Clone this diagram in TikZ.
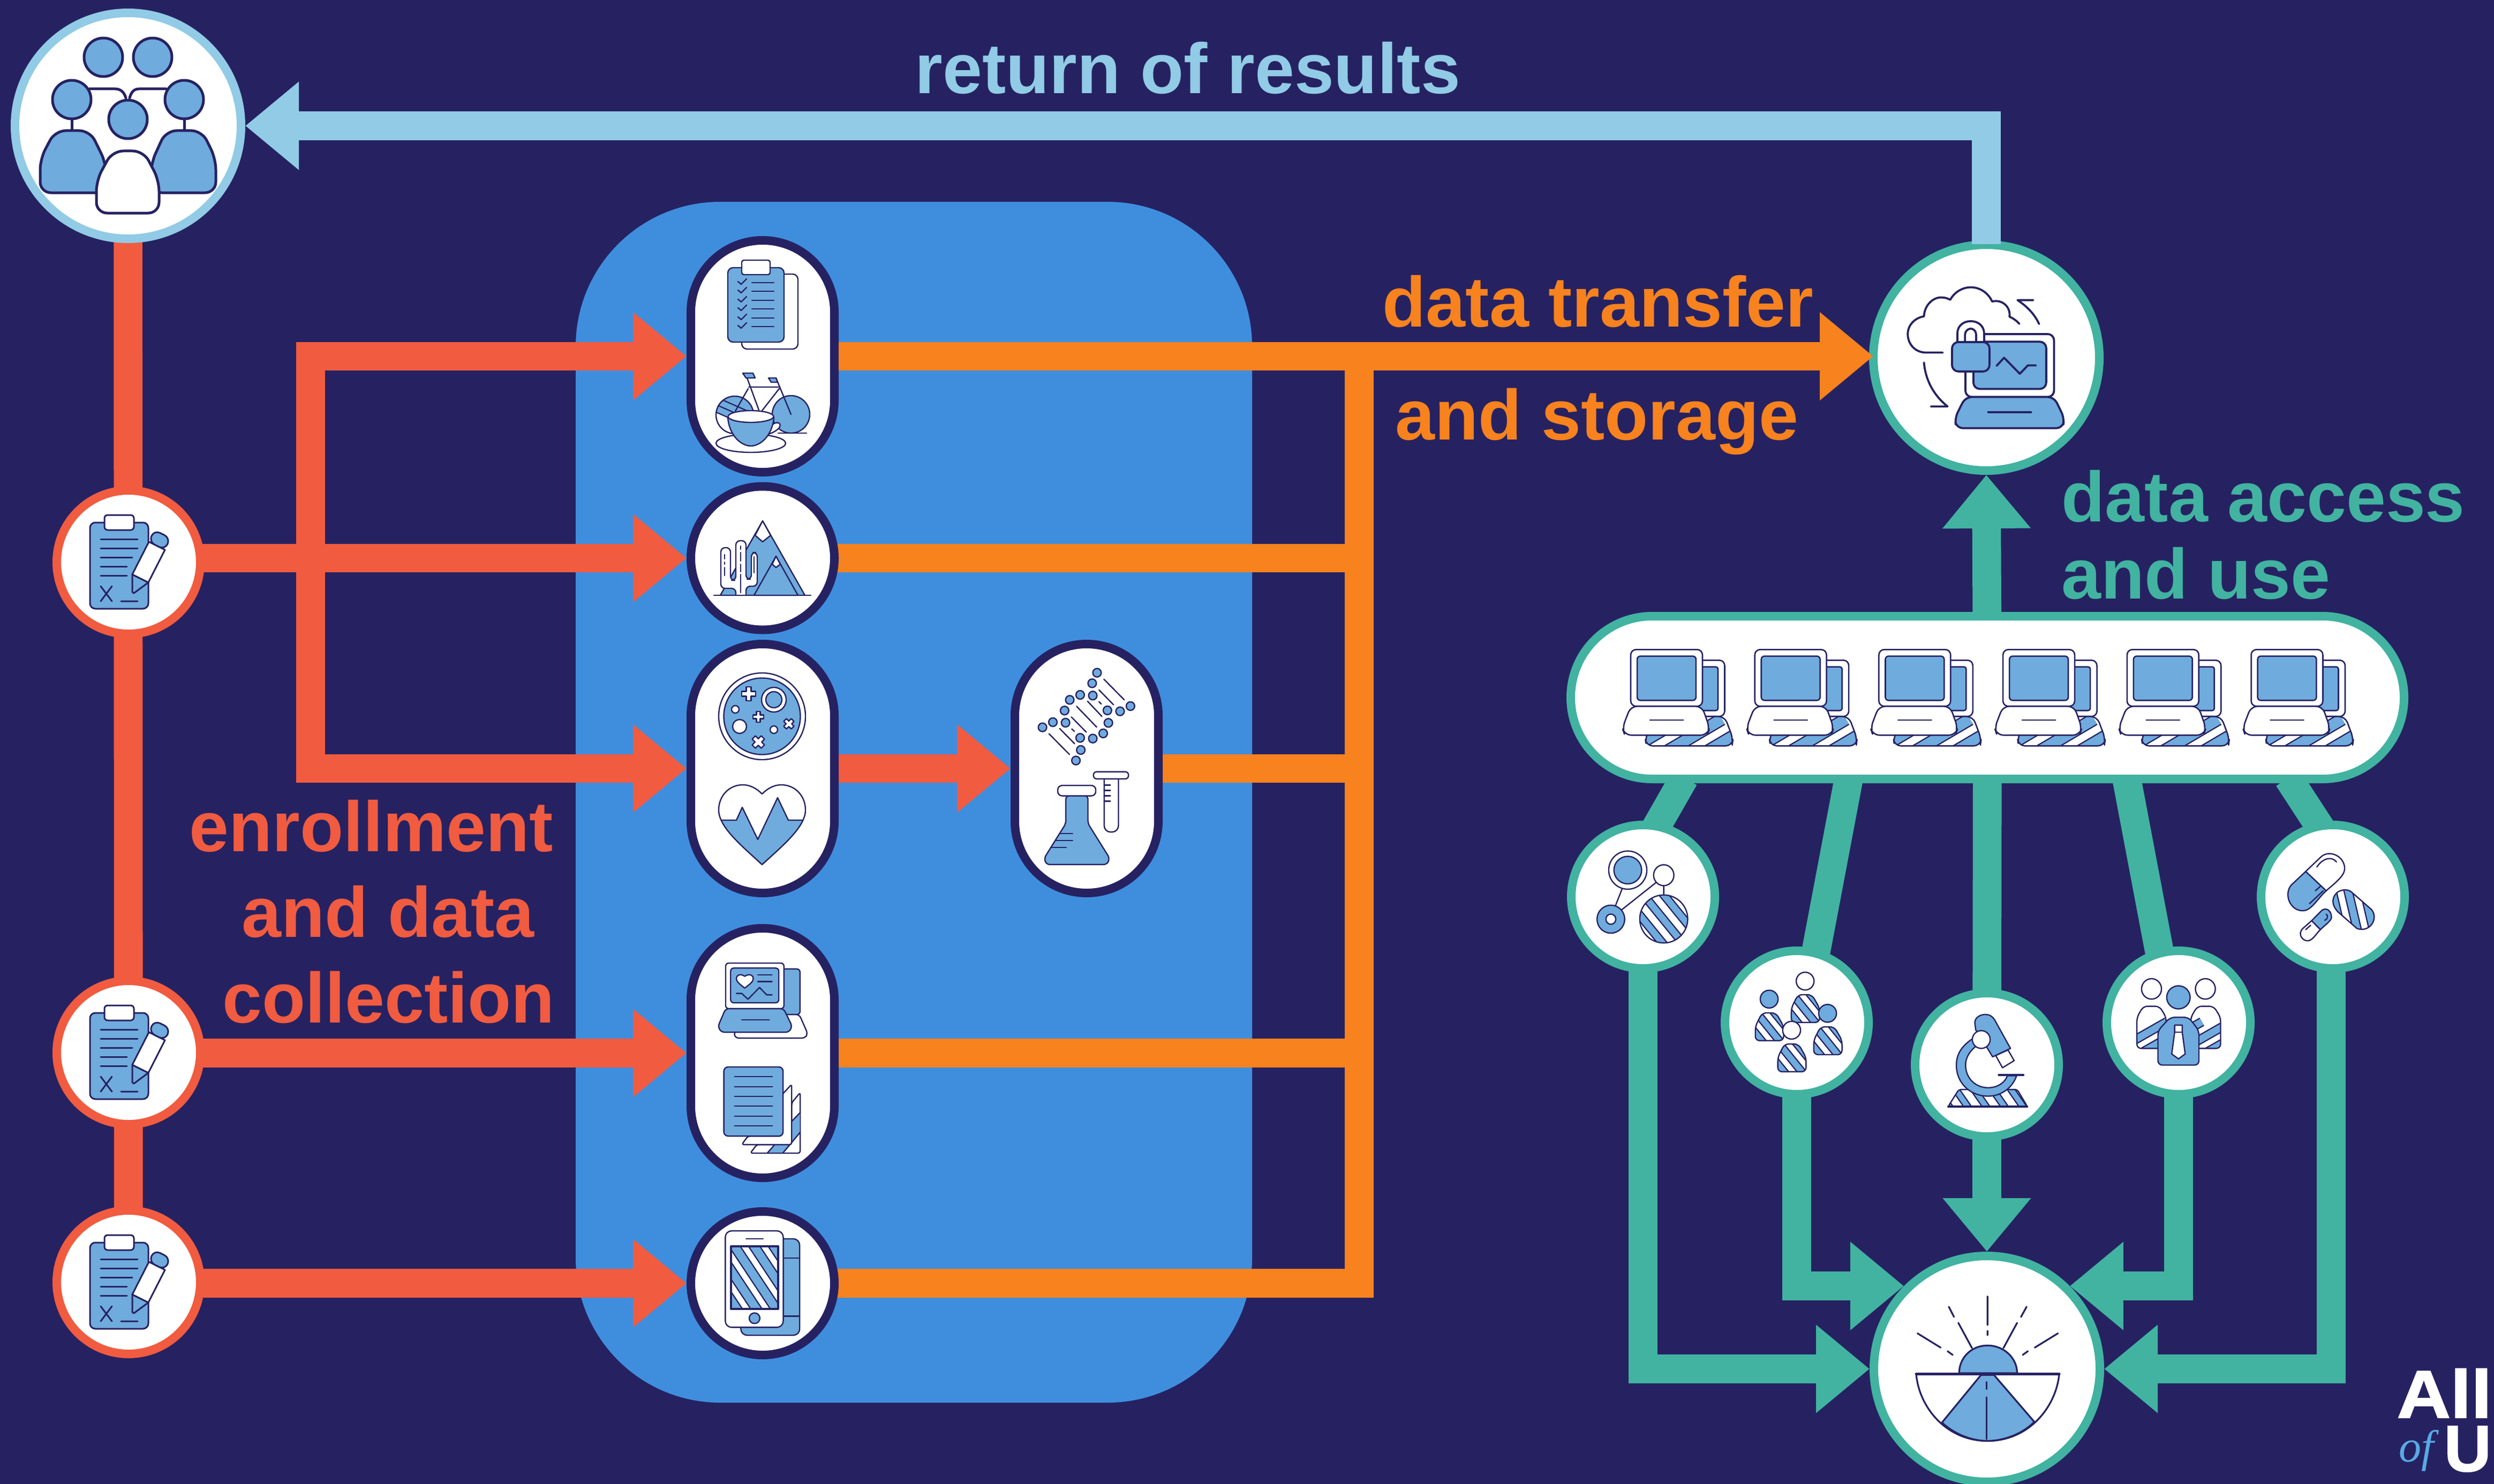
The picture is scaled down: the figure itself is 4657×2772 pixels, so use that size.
\documentclass[tikz,border=0pt]{standalone}
\usepackage{fontspec}
\setmainfont{Liberation Sans}
\newfontfamily\logoserif{Liberation Serif}
\newfontfamily\logoheavy[FakeBold=1.6]{Liberation Sans Bold}
\usetikzlibrary{arrows.meta,calc}
\definecolor{navy}{HTML}{262262}
\definecolor{panelblue}{HTML}{3F8EDE}
\definecolor{iconblue}{HTML}{6FABDD}
\definecolor{logoblue}{HTML}{58A9E5}
\definecolor{redc}{HTML}{F15B40}
\definecolor{orangec}{HTML}{F7821E}
\definecolor{tealc}{HTML}{41B3A0}
\definecolor{skyc}{HTML}{91CBE5}
\pgfdeclarelayer{bg}
\pgfsetlayers{bg,main}
\tikzset{
  ic/.style={draw=navy,line width=.75pt,line join=round,line cap=round},
  icb/.style={ic,fill=iconblue},
  icw/.style={ic,fill=white},
  zc/.style n args={4}{shift={(#1,#2)},x=#3pt,y=-#4pt},
  ringc/.style={circle,draw=#1,fill=white,line width=4pt,inner sep=0pt,minimum size=67pt},
  bigring/.style={ringc=#1,minimum size=105.5pt},
  pill/.style 2 args={rectangle,rounded corners=33.5pt,draw=navy,fill=white,line width=4pt,inner sep=0pt,minimum width=67pt,minimum height=#1 pt},
  conn/.style={line width=13.4pt,draw=#1,line join=miter},
  arrowc/.style={conn=#1,-{Triangle[length=25pt,width=39.6pt,fill=#1]}},
  arrowboth/.style={conn=#1,{Triangle[length=25pt,width=39.6pt,fill=#1]}-{Triangle[length=25pt,width=39.6pt,fill=#1]}},
  lab/.style={font=\fontsize{33.2}{33}\selectfont\bfseries,anchor=base west,inner sep=0pt,text=#1},
}
\newcommand\hatch[6]{%
  \fill[white] #1;
  \begin{scope}
    \clip #1;
    \foreach \hh in {#4}{%
      \draw[navy,line width=#6+1.2pt] (\hh,#5) ++(#2,#3) -- ++({-2*(#2)},{-2*(#3)});
      \draw[iconblue,line width=#6] (\hh,#5) ++(#2,#3) -- ++({-2*(#2)},{-2*(#3)});
    }
  \end{scope}
  \draw[ic] #1;}
\newcommand\crossmark[4]{%
  \begin{scope}[shift={(#1,#2)},rotate=#4]
    \pgfmathsetmacro\crt{.36*#3}
    \draw[icw,line width=.6pt] (-\crt,-#3)--(\crt,-#3)--(\crt,-\crt)--(#3,-\crt)--(#3,\crt)--(\crt,\crt)--(\crt,#3)--(-\crt,#3)--(-\crt,\crt)--(-#3,\crt)--(-#3,-\crt)--(-\crt,-\crt)--cycle;
  \end{scope}}
\newcommand\clipicon[1]{%
  \begin{scope}[shift={#1}]
    \draw[icb,rounded corners=2.5pt] (-72,-74) rectangle (37,87);
    \draw[icw,rounded corners=1.5pt] (-45,-88) rectangle (10,-60);
    \foreach \yy/\xx in {-43/17,-26/17,-9/7,8/-3,25/-3}{\draw[ic] (-52,\yy)--(\xx,\yy);}
    \draw[ic] (-52,45)--(-31,73) (-31,45)--(-52,73) (-14,73)--(17,73);
    \draw[icb] (7,23)--(37,38)--(10,58)--(7,56)--cycle;
    \draw[icw] (7,23)--(37,38)--(68,-23)--(38,-38)--cycle;
    \draw[icb,rounded corners=3pt] (38,-38)--(48,-60)--(78,-45)--(68,-23)--cycle;
  \end{scope}}
\begin{document}
\begin{tikzpicture}[x=.25pt,y=-.25pt]
\useasboundingbox (0,0) rectangle (4657,2772);

% ---------- nodes ----------
\node[bigring=skyc] (people) at (239,235) {};
\node[ringc=redc] (c1) at (240,1050) {};
\node[ringc=redc] (c2) at (240,1966) {};
\node[ringc=redc] (c3) at (240,2395) {};
\node[pill={108.25}{}] (p1) at (1424,665.5) {};
\node[ringc=navy] (p2) at (1424,1042.5) {};
\node[pill={116.25}{}] (p3) at (1424,1435.5) {};
\node[pill={116.5}{}] (p4) at (1424,1967) {};
\node[ringc=navy] (p6) at (1424,2397) {};
\node[pill={116.25}{}] (p5) at (2029,1435.5) {};
\node[bigring=tealc] (server) at (3709,668) {};
\node[rectangle,rounded corners=38pt,draw=tealc,fill=white,line width=4pt,inner sep=0pt,minimum width=389pt,minimum height=76pt] (bar) at (3711,1303) {};
\node[ringc=tealc] (A) at (3068,1675) {};
\node[ringc=tealc] (B) at (3355,1910) {};
\node[ringc=tealc] (C) at (3710,1989) {};
\node[ringc=tealc] (D) at (4068,1910) {};
\node[ringc=tealc] (E) at (4356,1675) {};
\node[bigring=tealc] (sun) at (3710,2557) {};

\coordinate (bus) at (580,1042);
\coordinate (collect) at (2538,666);
\coordinate (barA) at (3141,1460);
\coordinate (barB) at (3451,1460);
\coordinate (barD) at (3972,1460);
\coordinate (barE) at (4277,1460);
\coordinate (Eline) at (4353,1675);

% ---------- background, panel, connectors below the nodes ----------
\begin{pgfonlayer}{bg}
  \fill[navy] (0,0) rectangle (4657,2772);
  \fill[panelblue,rounded corners=67.5pt] (1075,377) rectangle (2338,2620);
  % red
  \draw[conn=redc] (people.center) -- (c3.center);
  \draw[arrowc=redc] (c1 |- p2) -- (p2.west);
  \draw[arrowboth=redc] (p1.west) -- (bus |- p1) -- (bus |- p3) -- (p3.west);
  \draw[arrowc=redc] (c2 |- p4) -- (p4.west);
  \draw[arrowc=redc] (c3 |- p6) -- (p6.west);
  \draw[arrowc=redc] (p3.center) -- (p5.west);
  % orange collectors
  \draw[conn=orangec] (p2.center) -- (p2 -| collect);
  \draw[conn=orangec] (p5.center) -- (p5 -| collect);
  \draw[conn=orangec] (p4.center) -- (p4 -| collect);
  \draw[conn=orangec] (p6.center) -| (collect);
  % teal
  \draw[arrowc=tealc] (bar.center) -- (server.south);
  \draw[conn=tealc,shorten <=-2pt,shorten >=-8pt] (barA) -- (A.78);
  \draw[conn=tealc,shorten <=-2pt,shorten >=-8pt] (barB) -- (B.75);
  \draw[conn=tealc] (bar.center) -- (C.center);
  \draw[conn=tealc,shorten <=-2pt,shorten >=-8pt] (barD) -- (D.105);
  \draw[conn=tealc,shorten <=-2pt,shorten >=-8pt] (barE) -- (E.102);
  \draw[arrowc=tealc] (A.center) |- (sun.west);
  \draw[arrowc=tealc] (B.center) |- (sun.135);
  \draw[arrowc=tealc] (C.center) -- (sun.north);
  \draw[arrowc=tealc] (D.center) |- (sun.45);
  \draw[arrowc=tealc] (Eline) |- (sun.east);
\end{pgfonlayer}

% connectors that lie over the rings
\draw[arrowc=orangec,shorten >=-2pt] (p1.east) -- (p1 -| server.west);
\draw[arrowc=skyc,shorten <=-1.75pt] (server.north) |- (people.east);

% ---------- texts ----------
\node[lab=skyc] (t1) at (1708,175) {return of results};
\node[lab=orangec] (t2) at (2581,610) {data transfer};
\node[lab=orangec] (t3) at (2605,821) {and storage};
\node[lab=tealc] (t4) at (3849,974) {data access};
\node[lab=tealc] (t5) at (3849,1118) {and use};
\node[lab=redc] (t6) at (353,1590) {enrollment};
\node[lab=redc] (t7) at (451,1750) {and data};
\node[lab=redc] (t8) at (415,1910) {collection};

% logo (cut by the page edge)
\node[font=\logoheavy\fontsize{31.5}{32}\selectfont,text=white,anchor=base west,inner sep=0pt] (logo1) at (4475,2648) {\scalebox{1.1}[1]{All}};
\node[font=\logoserif\fontsize{21}{21}\selectfont\itshape,text=logoblue,anchor=base west,inner sep=0pt] (logo2) at (4479,2730) {of};
\node[font=\logoheavy\fontsize{30.5}{31}\selectfont,text=white,anchor=base west,inner sep=0pt] (logo3) at (4563,2748) {U};

% ---------- icon: participants ----------
\begin{scope}[ic/.append style={line width=1.25pt}]
  \draw[ic] (167,166)--(215,166) .. controls (225,166) and (232,172) .. (235,183);
  \draw[ic] (310,166)--(260,166) .. controls (250,166) and (245,172) .. (242,183);
  \draw[ic] (134,225)--(134,243) (344,225)--(344,243);
  \foreach \xx/\yy in {193/107,285/107,134/186,344/186,239/223}{\draw[icb] (\xx,\yy) circle[radius=36];}
  \draw[icb,rounded corners=5pt] (75,360)--(75,297)--(103,244)--(168,244)--(198,305)--(198,360)--cycle;
  \draw[icb,rounded corners=5pt] (282,360)--(282,305)--(310,244)--(377,244)--(403,297)--(403,360)--cycle;
  \draw[icw,rounded corners=5pt] (180,398)--(180,337)--(210,282)--(268,282)--(297,337)--(297,398)--cycle;
\end{scope}

% ---------- icons: clipboards ----------
\clipicon{(240,1050)}
\clipicon{(240,1966)}
\clipicon{(240,2395)}

% ---------- icon: checklist ----------
\begin{scope}[ic/.append style={line width=.6pt}]
  \draw[icw,rounded corners=2.5pt] (1385,512) rectangle (1490,652);
  \draw[icb,rounded corners=2.5pt] (1359,500) rectangle (1464,639);
  \draw[icw,rounded corners=1pt] (1385,486) rectangle (1438,513);
  \foreach \yy in {528,544,561,577,594,610}{
    \draw[ic] (1378,\yy-2)--(1384,\yy+3)--(1394,\yy-7);
    \draw[ic] (1404,\yy)--(1445,\yy);
  }
  % bicycle and cup
  \hatch{(1372,775) circle[radius=35]}{50}{22}{1340,1372,1404}{760}{4.5pt}
  \draw[icb] (1477,774) circle[radius=35];
  \draw[ic] (1453,809)--(1506,809);
  \draw[ic] (1395,706)--(1417,766) (1449,706)--(1477,774) (1398,723)--(1455,723) (1397,726)--(1373,768) (1455,726)--(1423,767);
  \draw[icb] (1387,697)--(1406,697)--(1410,706)--(1393,706)--cycle;
  \draw[icb] (1435,706)--(1449,706)--(1452,714)--(1440,714)--cycle;
  \draw[icw] (1402,828) ellipse[x radius=65,y radius=17];
  \draw[icw] (1440,795) .. controls (1455,782) and (1462,795) .. (1452,802) .. controls (1445,808) and (1435,812) .. (1425,812);
  \draw[icb] (1359,780) .. controls (1362,815) and (1385,833) .. (1402,833) .. controls (1419,833) and (1442,815) .. (1445,780) -- cycle;
  \draw[icw] (1402,778) ellipse[x radius=42.5,y radius=11];
  % mountains and cactus
  \draw[icb] (1424,973)--(1503,1112)--(1345,1112)--cycle;
  \draw[icw] (1424,973)--(1439,1000)--(1424,1012)--(1410,1000)--cycle;
  \draw[icb] (1449,1039)--(1490,1112)--(1408,1112)--cycle;
  \draw[icw] (1449,1039)--(1457,1054)--(1449,1060)--(1442,1054)--cycle;
  \draw[icw,rounded corners=2pt] (1374,1112)--(1374,1099)--(1346,1099)--(1346,1023)--(1364,1023)--(1364,1084)--(1374,1084)--(1374,1010)--(1393,1010)--(1393,1082)--(1403,1082)--(1403,1032)--(1414,1032)--(1414,1095)--(1393,1095)--(1393,1112);
  \draw[ic] (1353,1036)--(1353,1044) (1353,1050)--(1353,1054) (1353,1060)--(1353,1075);
  \draw[ic] (1383,1020)--(1383,1026) (1383,1032)--(1383,1048) (1383,1054)--(1383,1068) (1383,1073)--(1383,1107);
  \draw[ic] (1408,1040)--(1408,1070);
  \draw[ic] (1333,1112)--(1514,1112);
\end{scope}

% ---------- icons: petri dish, heart ----------
\begin{scope}[ic/.append style={line width=.6pt}]
  \draw[icw] (1423,1338) circle[radius=81];
  \draw[icb] (1423,1338) circle[radius=71.5];
  \draw[icw] (1445,1307) circle[radius=23];
  \draw[icb] (1445,1307) circle[radius=15];
  \draw[icw] (1373,1325) circle[radius=7];
  \draw[icw] (1381,1357) circle[radius=13];
  \draw[icw] (1445,1363) circle[radius=7];
  \crossmark{1398}{1296}{13}{0}
  \crossmark{1416}{1339}{10}{0}
  \crossmark{1473}{1352}{10}{45}
  \crossmark{1416}{1386}{12}{45}
  \def\heartpath{(1423,1483) .. controls (1412,1472) and (1400,1466) .. (1387,1466) .. controls (1362,1466) and (1342,1486) .. (1342,1513) .. controls (1342,1545) and (1385,1580) .. (1423,1615) .. controls (1461,1580) and (1504,1545) .. (1504,1513) .. controls (1504,1486) and (1484,1466) .. (1459,1466) .. controls (1446,1466) and (1434,1472) .. (1423,1483) -- cycle}
  \fill[white] \heartpath;
  \begin{scope}
    \clip \heartpath;
    \draw[icb] (1330,1532)--(1375,1532)--(1386,1508)--(1415,1568)--(1452,1490)--(1472,1532)--(1520,1532)--(1520,1630)--(1330,1630)--cycle;
  \end{scope}
  \draw[ic] \heartpath;
\end{scope}

% ---------- icons: DNA, flask, tube ----------
\begin{scope}[zc={1260}{1180}{0.1515}{0.0833},ic/.append style={line width=.6pt}]
  \foreach \aa/\bb in {1301/230,1286/289,1288/358,1249/354,1217/382,1201/442,1204/510,1165/507,1133/536,1404/417,1372/446,1333/441,1336/511,1320/570,1288/599,1249/595,1251/663,1236/722}{
    \draw[icb] (\aa,\bb) ellipse[x radius=13,y radius=24];
  }
  \draw[ic] (1322,266)--(1385,382) (1307,326)--(1352,410) (1272,390)--(1316,475) (1307,392)--(1314,405) (1238,418)--(1300,535) (1222,478)--(1268,563) (1223,545)--(1231,558) (1186,543)--(1232,628) (1153,572)--(1216,688);
  \draw[icw,rounded corners=3pt] (1323,820)--(1323,1123)--(1367,1123)--(1367,820);
  \draw[icw,rounded corners=1.5pt] (1290,785) rectangle (1398,825);
  \draw[ic] (1323,860)--(1342,860) (1323,890)--(1342,890) (1323,920)--(1342,920) (1323,950)--(1342,950);
  \draw[icb,rounded corners=1.5pt] (1205,920)--(1205,1075)--(1138,1270)--(1145,1305)--(1332,1305)--(1340,1270)--(1273,1075)--(1273,920)--cycle;
  \draw[icw,rounded corners=2pt] (1180,862) rectangle (1297,920);
  \draw[ic] (1187,1132)--(1226,1132) (1172,1170)--(1226,1170) (1158,1209)--(1206,1209);
\end{scope}

% ---------- icons: laptop, documents, phone ----------
\begin{scope}[zc={1240}{1700}{0.0833}{0.1374},ic/.append style={line width=.6pt}]
  \draw[icb,rounded corners=1.5pt] (660,200)--(762,200)--(762,355)--(660,355)--cycle;
  \draw[icw,rounded corners=1.5pt] (660,355)--(758,355)--(805,420)--(790,435)--(400,435)--(390,415)--cycle;
  \draw[icw,rounded corners=1.5pt] (345,335)--(345,180)--(672,180)--(672,335)--cycle;
  \draw[icb,rounded corners=1.5pt] (373,197) rectangle (643,315);
  \draw[icb,rounded corners=1.5pt] (345,335)--(670,335)--(718,395)--(700,415)--(320,415)--(302,395)--cycle;
  \draw[ic] (435,373)--(590,373);
  \draw[icw] (452,265) .. controls (420,250) and (405,242) .. (405,232) .. controls (405,220) and (430,215) .. (452,225) .. controls (475,215) and (500,220) .. (500,232) .. controls (500,242) and (485,250) .. (452,265) -- cycle;
  \draw[ic] (525,220)--(605,220) (525,243)--(605,243);
  \draw[ic] (405,283)--(435,283)--(470,303)--(535,263)--(575,288)--(605,288);
  % documents
  \draw[icw,rounded corners=1pt] (715,655)--(763,620)--(763,826)--(483,826)--(520,797)--(715,797)--cycle;
  \fill[iconblue] (761,688)--(761,755)--(665,824)--(578,824)--(620,797)--(713,718)--cycle;
  \draw[ic] (763,688)--(715,718) (763,755)--(665,826) (620,797)--(578,826);
  \draw[icw,rounded corners=1pt] (660,628)--(715,592)--(715,797)--(435,797)--(470,768)--(660,768)--cycle;
  \draw[icb,rounded corners=2pt] (335,533) rectangle (667,768);
  \foreach \yy in {566,600,633,666,700,733}{\draw[ic] (395,\yy)--(607,\yy);}
  % phone
  \draw[icb,rounded corners=3pt] (430,1117) rectangle (760,1445);
  \draw[ic] (670,1183)--(760,1183) (670,1380)--(760,1380);
  \draw[icw,rounded corners=3pt] (343,1090) rectangle (668,1418);
  \draw[ic] (460,1117)--(555,1117);
  \hatch{(375,1143) rectangle (640,1355)}{300}{275}{70,180,290,400,510,620}{1147}{3.8pt}
  \draw[ic,line width=.9pt] (375,1143) rectangle (640,1355);
  \draw[icb] (507,1387) ellipse[x radius=30,y radius=18];
\end{scope}

% ---------- icon: cloud laptop ----------
\begin{scope}[zc={3440}{420}{0.0833}{0.0833},ic/.append style={line width=.95pt}]
  \draw[ic] (563,716) -- (470,716) .. controls (405,716) and (367,665) .. (367,612) .. controls (367,560) and (410,520) .. (458,513) .. controls (460,450) and (510,405) .. (555,407) .. controls (575,407) and (590,412) .. (605,420) .. controls (630,375) and (675,350) .. (720,350) .. controls (775,350) and (820,385) .. (840,430) .. controls (895,415) and (945,460) .. (937,515) .. controls (960,525) and (980,540) .. (992,555);
  \draw[ic] (1103,556) .. controls (1080,505) and (1040,460) .. (982,422) -- (1070,422);
  \draw[ic] (458,772) .. controls (465,860) and (505,950) .. (590,1018) -- (497,1018);
  \draw[icw,rounded corners=3pt] (690,965)--(690,612)--(1187,612)--(1187,965)--cycle;
  \draw[icb,rounded corners=3pt] (735,655) rectangle (1143,920);
  \draw[ic] (865,790)--(907,745)--(995,835)--(1040,788)--(1085,788);
  \draw[icb,rounded corners=3pt] (690,965)--(1187,965)--(1245,1085)--(1235,1140)--(640,1140)--(630,1085)--cycle;
  \draw[ic] (818,1050)--(1058,1050);
  \fill[white] (645,655) -- (645,610) .. controls (645,565) and (680,540) .. (720,540) .. controls (760,540) and (795,565) .. (795,610) -- (795,655) -- cycle;
  \draw[ic] (645,655) -- (645,610) .. controls (645,565) and (680,540) .. (720,540) .. controls (760,540) and (795,565) .. (795,610) -- (795,655);
  \draw[ic] (688,655) -- (688,615) .. controls (688,595) and (705,582) .. (720,582) .. controls (735,582) and (750,595) .. (750,615) -- (750,655);
  \draw[icb,rounded corners=3pt] (615,657)--(825,657)--(825,822)--(615,822)--cycle;
\end{scope}

% ---------- icons: six computers ----------
\foreach \k in {0,...,5}{
\begin{scope}[shift={({231.7*\k},0)},zc={2920}{1130}{0.1116}{0.0833},ic/.append style={line width=.65pt}]
  \draw[icw,rounded corners=2.5pt] (540,625)--(540,310)--(673,310)--(673,625)--cycle;
  \draw[icb,rounded corners=1pt] (540,347)--(645,347)--(645,592)--(540,592)--cycle;
  \hatch{[rounded corners=3pt] (560,625)--(673,625)--(708,750)--(704,790)--(345,790)--(340,740)--(360,700)--cycle}{190}{-150}{300,471,640}{790}{5pt}
  \draw[icw,rounded corners=2.5pt] (280,568)--(280,250)--(580,250)--(580,568)--cycle;
  \draw[icb,rounded corners=1.5pt] (307,287) rectangle (553,535);
  \draw[icw,rounded corners=3pt] (280,568)--(578,568)--(610,690)--(600,730)--(255,730)--(245,690)--cycle;
  \draw[ic] (360,645)--(500,645);
\end{scope}}

% ---------- icon: molecule ----------
\begin{scope}[zc={2900}{1500}{0.1435}{0.1037},ic/.append style={line width=.6pt}]
  \draw[ic] (225,385)--(203,462) (335,358)--(222,482) (360,372)--(360,412);
  \draw[icw] (243,302) ellipse[x radius=62,y radius=86];
  \draw[icb] (243,302) ellipse[x radius=45,y radius=62];
  \draw[icw] (360,325) ellipse[x radius=33,y radius=47];
  \draw[icb] (188,523) ellipse[x radius=45,y radius=63];
  \draw[icw] (188,523) ellipse[x radius=16,y radius=23];
  \hatch{(360,522) ellipse[x radius=78,y radius=108]}{100}{170}{292,358,424}{522}{3pt}
  % participants in groups
  \foreach \bx/\by in {820/863,703/945,893/1008,776/1085}{
    \begin{scope}[shift={({\bx-703},{\by-945})}]
      \hatch{[rounded corners=2pt] (680,945)--(725,945)--(750,1005)--(750,1070)--(658,1070)--(658,1005)--cycle}{70}{120}{640,698,756}{1005}{2.8pt}
    \end{scope}
  }
  \draw[icw] (820,802) ellipse[x radius=29,y radius=40];
  \draw[icb] (703,883) ellipse[x radius=29,y radius=40];
  \draw[icb] (893,947) ellipse[x radius=29,y radius=40];
  \draw[icw] (776,1023) ellipse[x radius=29,y radius=40];
  % microscope
  \hatch{[rounded corners=1pt] (1320,1290)--(1510,1290)--(1543,1367)--(1285,1367)--cycle}{50}{100}{1270,1330,1390,1450,1510}{1330}{2.4pt}
  \draw[ic,line width=.8pt] (1285,1367)--(1543,1367);
  \draw[icb] (1372,1055) .. controls (1330,1090) and (1312,1130) .. (1312,1180) .. controls (1312,1265) and (1360,1320) .. (1415,1320) .. controls (1460,1320) and (1495,1280) .. (1508,1228) -- (1478,1228) .. controls (1470,1260) and (1445,1282) .. (1415,1282) .. controls (1375,1282) and (1342,1240) .. (1342,1180) .. controls (1342,1140) and (1360,1110) .. (1385,1085) -- cycle;
  \draw[ic,line width=1pt] (1450,1225)--(1530,1225);
  \draw[icw] (1440,1137)--(1480,1112)--(1500,1160)--(1462,1192)--cycle;
  \draw[icb] (1375,1022) -- (1372,990) .. controls (1372,965) and (1390,952) .. (1407,952) .. controls (1420,952) and (1432,962) .. (1440,985) -- (1488,1105) -- (1430,1143) -- (1385,1040) -- cycle;
  \draw[icw] (1393,1065) ellipse[x radius=29,y radius=40];
\end{scope}

% ---------- icons: team with tie, capsules ----------
\begin{scope}[zc={3800}{1500}{0.1366}{0.1037},ic/.append style={line width=.6pt}]
  \draw[icw] (398,837) ellipse[x radius=34,y radius=46];
  \draw[icw] (582,837) ellipse[x radius=34,y radius=46];
  \draw[icb] (490,875) ellipse[x radius=40,y radius=52];
  \hatch{[rounded corners=2pt] (370,915)--(425,915)--(448,965)--(448,1105)--(348,1105)--(348,965)--cycle}{120}{-90}{330,430,530}{1075}{3.2pt}
  \hatch{[rounded corners=2pt] (555,915)--(610,915)--(634,965)--(634,1105)--(532,1105)--(532,965)--cycle}{120}{-90}{450,550,650}{1075}{3.2pt}
  \draw[icb,rounded corners=2pt] (462,965)--(525,965)--(560,1025)--(560,1180)--(420,1180)--(420,1025)--cycle;
  \draw[icw] (477,1000)--(503,1000)--(503,1032)--(513,1130)--(490,1152)--(467,1130)--(477,1032)--cycle;
  \draw[ic] (477,1032)--(503,1032);
  % capsules
  \draw[icb] (925,308)--(875,370) .. controls (850,410) and (870,485) .. (915,485) .. controls (945,485) and (965,430) .. (995,395) -- cycle;
  \draw[icw] (925,308)--(975,245) .. controls (1005,205) and (1058,240) .. (1058,295) .. controls (1058,330) and (1020,365) .. (995,395) -- cycle;
  \draw[ic] (963,288) .. controls (985,245) and (1015,240) .. (1030,265);
  \draw[ic] (938,453)--(985,395) (958,395)--(975,375);
  \hatch{(1035,400) .. controls (1055,385) and (1075,390) .. (1085,405) -- (1150,480) .. controls (1175,520) and (1145,585) .. (1100,565) -- (1035,490) .. controls (1010,455) and (1015,420) .. (1035,400) -- cycle}{30}{170}{1030,1085,1140}{480}{3.2pt}
  \draw[icb] (945,530)--(975,490) .. controls (990,465) and (1013,480) .. (1013,515) .. controls (1013,530) and (990,550) .. (975,570) -- cycle;
  \draw[icw] (945,530)--(915,565) .. controls (895,590) and (915,625) .. (935,620) .. controls (950,615) and (960,590) .. (975,570) -- cycle;
  \draw[ic] (925,570)--(942,550) (995,500) .. controls (1003,510) and (1000,522) .. (990,528);
\end{scope}

% ---------- icon: sun ----------
\begin{scope}[zc={3400}{2250}{0.2005}{0.0833},ic/.append style={line width=.8pt}]
  \draw[ic] (388,515)--(388,675) (388,708)--(388,732) (298,573)--(310,630) (320,663)--(352,805) (479,573)--(466,630) (457,663)--(425,805) (225,722)--(279,802) (295,822)--(307,843) (552,722)--(498,802) (482,822)--(470,843);
  \draw[icb] (322,945) .. controls (322,860) and (350,790) .. (388,790) .. controls (426,790) and (457,860) .. (457,945) -- cycle;
  \draw[icw] (222,950)--(555,950) .. controls (548,1130) and (486,1325) .. (388,1325) .. controls (290,1325) and (228,1130) .. (222,950) -- cycle;
  \draw[icb] (373,955) -- (282,1222) .. controls (310,1285) and (350,1325) .. (388,1325) .. controls (426,1325) and (470,1285) .. (497,1218) -- (403,955) -- cycle;
  \draw[ic] (386,1080)--(386,1315) (386,995)--(386,1035);
  \draw[ic,line width=1.2pt] (222,950)--(555,950);
\end{scope}
\end{tikzpicture}
\end{document}
